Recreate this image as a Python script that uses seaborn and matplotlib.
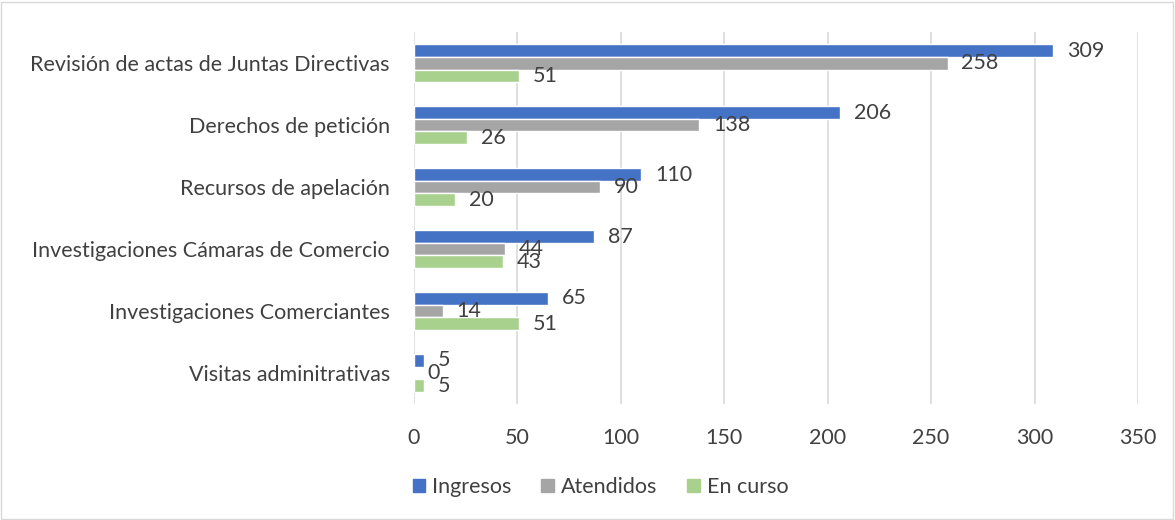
import pandas as pd
import matplotlib.pyplot as plt
import seaborn as sns
from matplotlib.patches import Rectangle

# Data
categories = [
    "Revisión de actas de Juntas Directivas",
    "Derechos de petición",
    "Recursos de apelación",
    "Investigaciones Cámaras de Comercio",
    "Investigaciones Comerciantes",
    "Visitas adminitrativas",
]
ingresos = [309, 206, 110, 87, 65, 5]
atendidos = [258, 138, 90, 44, 14, 0]
en_curso = [51, 26, 20, 43, 51, 5]

series_names = ["Ingresos", "Atendidos", "En curso"]
colors = ["#4472C4", "#A5A5A5", "#A9D18E"]

df = pd.DataFrame({"categoria": categories, "Ingresos": ingresos,
                   "Atendidos": atendidos, "En curso": en_curso})
long_df = df.melt(id_vars="categoria", var_name="serie", value_name="valor")

sns.set_style("white")
plt.rcParams["font.family"] = ["Lato", "DejaVu Sans"]
text_color = "#404040"
fs = 15.5

fig = plt.figure(figsize=(11.75, 5.2), dpi=100)
ax = fig.add_axes([0.352, 0.223, 0.6165, 0.715])

sns.barplot(data=long_df, y="categoria", x="valor", hue="serie",
            hue_order=series_names, palette=colors, orient="h",
            width=0.61, ax=ax, legend=False, saturation=1)

for container in ax.containers:
    ax.bar_label(container, padding=10, fontsize=fs, color=text_color)

ax.set_xlim(0, 350)
ax.set_xticks(range(0, 351, 50))
ax.xaxis.grid(True, color="#D9D9D9", linewidth=1.2)
ax.set_axisbelow(True)
for sp in ax.spines.values():
    sp.set_visible(False)
ax.set_xlabel("")
ax.set_ylabel("")
ax.tick_params(axis="both", length=0, labelsize=fs, colors=text_color)
ax.tick_params(axis="y", pad=17)
ax.tick_params(axis="x", pad=17)

handles = [Rectangle((0, 0), 1, 1, color=c) for c in colors]
fig.legend(handles, series_names, loc="center", bbox_to_anchor=(0.511, 0.063),
           ncol=3, frameon=False, fontsize=fs, handlelength=0.6,
           handleheight=0.6, handletextpad=0.3, columnspacing=1.4,
           labelcolor=text_color)

fig.patches.append(Rectangle((0.001, 0.002), 0.997, 0.995, transform=fig.transFigure,
                             fill=False, edgecolor="#D9D9D9", linewidth=1))

fig.savefig("out.png", dpi=100)
